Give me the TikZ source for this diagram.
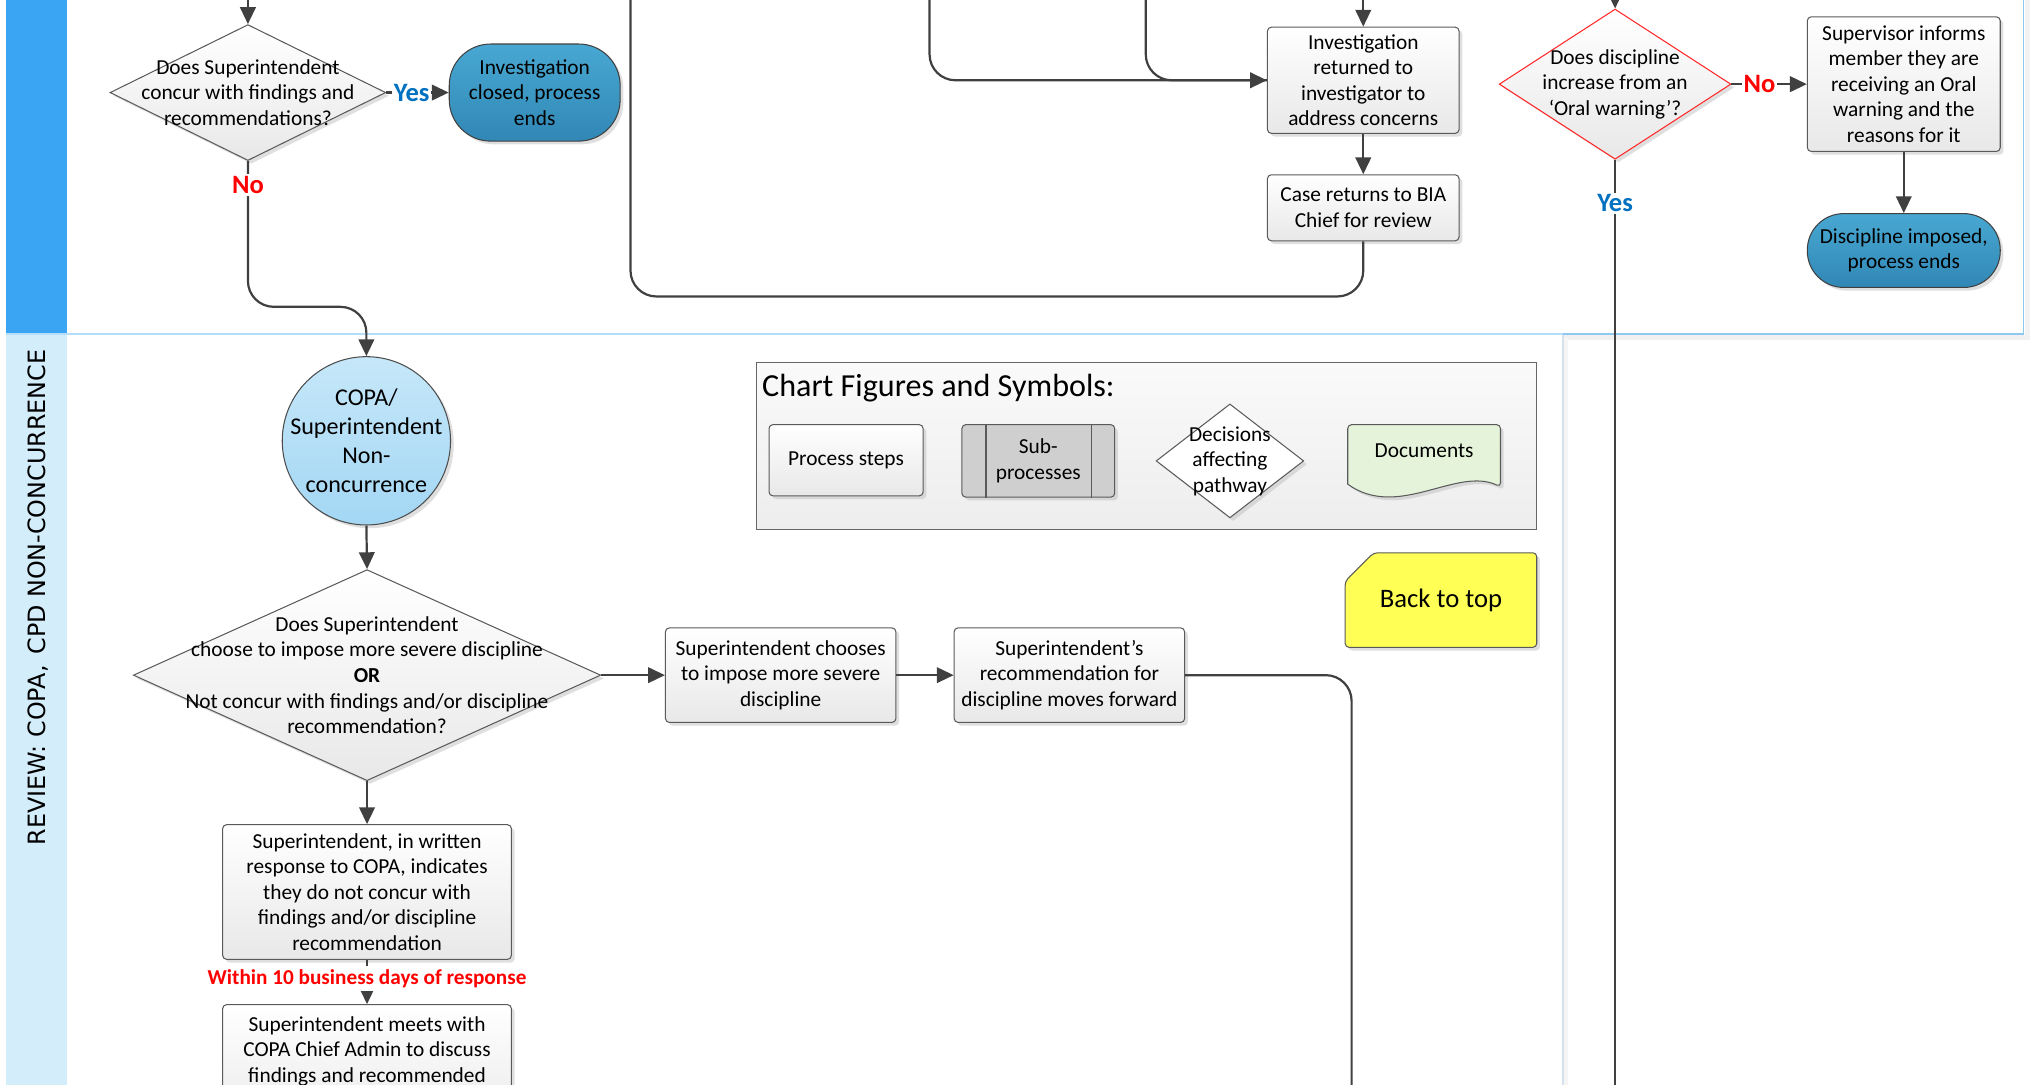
\documentclass[tikz,border=0pt]{standalone}
\usepackage{fontspec}
\setmainfont{Carlito}
\newfontfamily\lanefont{DejaVu Sans}
\usetikzlibrary{arrows.meta,shapes.geometric,shadows,calc}
\definecolor{lineC}{HTML}{404040}
\definecolor{laneBlue}{HTML}{3AA5F3}
\definecolor{laneLight}{HTML}{D3EDFB}
\definecolor{laneBorder}{HTML}{B5DEF8}
\definecolor{laneBorderDk}{HTML}{8CC8F0}
\definecolor{laneGray}{HTML}{D5E2EE}
\definecolor{termTop}{HTML}{48A8D2}
\definecolor{termBot}{HTML}{3187B5}
\definecolor{circTop}{HTML}{C6E7F9}
\definecolor{circBot}{HTML}{A3D7F4}
\definecolor{yesBlue}{HTML}{0070C0}
\definecolor{noRed}{HTML}{FF0000}
\definecolor{docGreen}{HTML}{E4F3DA}
\definecolor{subGray}{HTML}{CFCFCF}
\definecolor{yellowC}{HTML}{FFFF55}
\definecolor{edgeC}{HTML}{5A5A5A}
\tikzset{
  txt/.style={font=\fontsize{16.5}{19.7}\selectfont, align=center, inner sep=0pt},
  shad/.style={drop shadow={shadow xshift=2.5pt, shadow yshift=-2.5pt, fill=black!25, opacity=0.5}},
  procbox/.style={draw=edgeC, line width=0.8pt, rounded corners=3pt, top color=white, bottom color=black!9, shad, txt},
  decision/.style={diamond, draw=edgeC, line width=0.8pt, top color=white, bottom color=black!9, shad, inner sep=0pt},
  terminator/.style={draw=black!75, line width=0.8pt, top color=termTop, bottom color=termBot, shad, txt},
  conn/.style={draw=lineC, line width=1.7pt, -{Triangle[length=13pt,width=12pt]}},
  plainline/.style={draw=lineC, line width=1.7pt},
  lbl/.style={font=\bfseries\fontsize{20.5}{22}\selectfont, fill=white, inner sep=1.5pt},
}
\begin{document}
\begin{tikzpicture}[x=1pt,y=-1pt]
\useasboundingbox (0,0) rectangle (1568,837.3);
\clip (0,0) rectangle (1568,837.3);

% ---- lanes ----
\fill[laneBlue] (5,-5) rectangle (52,257.5);
\fill[laneLight] (5,259) rectangle (52,845);
\fill[black!6] (1207,259) rectangle (1568,263);
\fill[black!5] (1564,-5) rectangle (1568,263);
\draw[laneBorder, line width=1.2pt] (5,258) -- (1207,258);
\draw[laneBorderDk, line width=1.4pt] (1207,258) -- (1563,258) -- (1563,-5);
\fill[black!4] (1208,260) rectangle (1211.5,845);
\draw[laneGray, line width=1.4pt] (1207,259) -- (1207,845);
\node[rotate=90, font=\lanefont\fontsize{18.4}{21}\selectfont, inner sep=0pt] (lanetitle) at (29,461.5) {REVIEW: COPA,\hspace{0.45em}CPD NON-CONCURRENCE};

% ---- top lane nodes ----
\node[decision, minimum width=213pt, minimum height=105pt] (d1) at (191.5,71.5) {};
\node[txt] (d1t) at (d1) {Does Superintendent\\concur with findings and\\recommendations?};
\node[terminator, rounded corners=32pt, minimum width=132pt, minimum height=75pt] (t1) at (413,71.5) {Investigation\\closed, process\\ends};

\node[procbox, minimum width=148pt, minimum height=82pt] (inv) at (1053,62) {Investigation\\returned to\\investigator to\\address concerns};
\node[procbox, minimum width=148pt, minimum height=51pt] (case) at (1053,160.5) {Case returns to BIA\\Chief for review};

\node[decision, draw=red!85, minimum width=179pt, minimum height=116pt] (d2) at (1247.5,65) {};
\node[txt] (d2t) at (d2) {Does discipline\\increase from an\\‘Oral warning’?};
\node[procbox, minimum width=149pt, minimum height=104pt] (sup) at (1470.5,65) {Supervisor informs\\member they are\\receiving an Oral\\warning and the\\reasons for it};
\node[terminator, rounded corners=28pt, minimum width=149pt, minimum height=57pt] (t2) at (1470.5,193.5) {Discipline imposed,\\process ends};

% ---- lower lane nodes ----
\node[circle, draw=black!70, line width=0.8pt, top color=circTop, bottom color=circBot, shad, minimum size=130pt, inner sep=0pt] (circ) at (283,340.5) {};
\node[txt, font=\fontsize{18.6}{22.3}\selectfont] (circt) at (circ) {COPA/\\Superintendent\\Non-\\concurrence};

\node[decision, minimum width=361pt, minimum height=163pt] (d3) at (283.5,521.5) {};
\node[txt] (d3t) at (d3) {Does Superintendent\\choose to impose more severe discipline\\\textbf{OR}\\Not concur with findings and/or discipline\\recommendation?};

\node[procbox, minimum width=178pt, minimum height=73pt] (b1) at (603,521.5) {Superintendent chooses\\to impose more severe\\discipline};
\node[procbox, minimum width=178pt, minimum height=73pt] (b2) at (826,521.5) {Superintendent’s\\recommendation for\\discipline moves forward};
\node[procbox, minimum width=223pt, minimum height=104pt] (b3) at (283.5,689) {Superintendent, in written\\response to COPA, indicates\\they do not concur with\\findings and/or discipline\\recommendation};
\node[procbox, minimum width=223pt, minimum height=104pt] (b4) at (283.5,828) {};
\node[txt, anchor=north] (b4t) at (283.5,785) {Superintendent meets with\\COPA Chief Admin to discuss\\findings and recommended};

% ---- legend ----
\node[draw=black!60, line width=0.8pt, top color=black!2, bottom color=black!7, minimum width=603pt, minimum height=129pt, inner sep=0pt] (legend) at (885.5,344.5) {};
\node[anchor=west, font=\fontsize{24.8}{28}\selectfont, inner sep=0pt] (legtitle) at (588.5,299.5) {Chart Figures and Symbols:};
\node[procbox, minimum width=119pt, minimum height=55pt] (lp) at (653.5,355.5) {Process steps};
\node[procbox, top color=subGray, bottom color=subGray, minimum width=118pt, minimum height=56pt] (ls) at (802,356) {Sub-\\processes};
\draw[edgeC, line width=0.8pt] ([xshift=19pt]ls.north west) -- ([xshift=19pt]ls.south west);
\draw[edgeC, line width=0.8pt] ([xshift=-18pt]ls.north east) -- ([xshift=-18pt]ls.south east);
\node[decision, top color=white, bottom color=white, minimum width=114pt, minimum height=88pt] (ld) at (950,356) {};
\node[txt] (ldt) at (ld) {Decisions\\affecting\\pathway};
\path[draw=edgeC, line width=0.8pt, fill=docGreen, shad] (1041,331) [rounded corners=3pt] -- (1041,328) -- (1159,328) -- (1159,376) [sharp corners] .. controls (1125,360) and (1080,402) .. (1041,374) -- cycle;
\node[txt] (ldoc) at (1100,348) {Documents};

\path[draw=edgeC, line width=0.8pt, fill=yellowC, shad, rounded corners=3pt] (1061,427) -- (1187,427) -- (1187,500) -- (1039,500) -- (1039,449) -- cycle;
\node[txt, font=\fontsize{20.6}{24}\selectfont] (btt) at (1113,463.5) {Back to top};

% ---- connectors ----
\coordinate (top1) at (191.5,-2);
\coordinate (top2) at (487,-2);
\coordinate (top3) at (718,-2);
\coordinate (top4) at (885,-2);
\coordinate (top5) at (1053,-2);
\coordinate (top6) at (1247.5,-2);
\coordinate (bot1) at (1247.5,845);
\coordinate (bot2) at (1044,845);

\draw[conn] (top1) -- (d1.north);
\draw[conn] (d1.east) -- (t1.west);
\node[lbl, text=yesBlue] (yes1) at (318,72) {Yes};
\draw[conn, rounded corners=20pt] (d1.south) -- (191.5,237) -- (283,237) -- (circ.north);
\node[lbl, text=noRed] (no1) at (191.5,143) {No};

\draw[plainline, rounded corners=20pt] (case.south) -- (1053,229) -- (487,229) -- (top2);
\draw[plainline, rounded corners=20pt] (top3) -- (718,62) -- (inv.west);
\draw[conn, rounded corners=20pt] (top4) -- (885,62) -- (inv.west);
\draw[conn] (top5) -- (inv.north);
\draw[conn] (inv.south) -- (case.north);

\draw[conn] (top6) -- (d2.north);
\draw[conn] (d2.east) -- (sup.west);
\node[lbl, text=noRed] (no2) at (1359,64.5) {No};
\draw[conn] (sup.south) -- (t2.north);
\draw[plainline] (d2.south) -- (bot1);
\node[lbl, text=yesBlue] (yes2) at (1247.5,157) {Yes};

\draw[conn] (circ.south) -- (d3.north);
\draw[conn] (d3.east) -- (b1.west);
\draw[conn] (b1.east) -- (b2.west);
\draw[plainline, rounded corners=20pt] (b2.east) -- (1044,521.5) -- (bot2);
\draw[conn] (d3.south) -- (b3.north);
\draw[conn] (b3.south) -- (b4.north);
\node[lbl, text=noRed, font=\bfseries\fontsize{16.4}{18}\selectfont, inner ysep=2.5pt] (within) at (283.5,756) {Within 10 business days of response};
\end{tikzpicture}
\end{document}
